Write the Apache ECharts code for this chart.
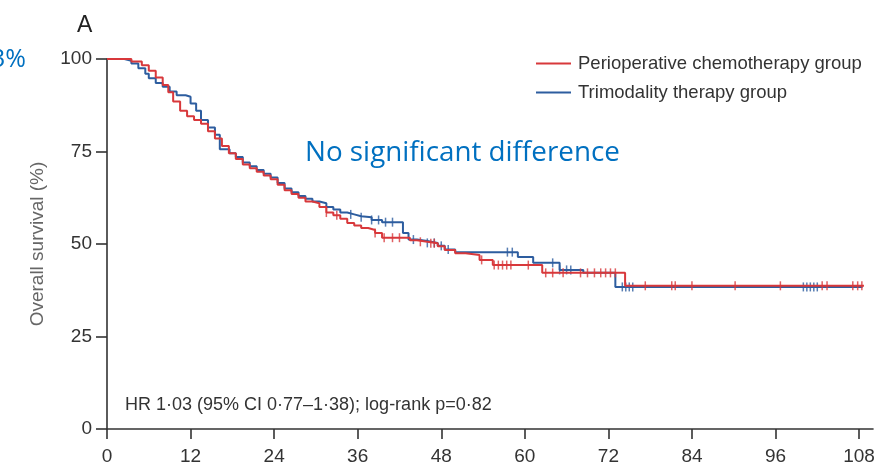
<!DOCTYPE html>
<html>
<head>
<meta charset="utf-8">
<script src="https://cdn.jsdelivr.net/npm/echarts@6/dist/echarts.min.js"></script>
<style>
html,body{margin:0;padding:0;background:#fff;}
#chart{width:879px;height:468px;}
</style>
</head>
<body>
<div id="chart"></div>
<script>
// ---- Data ----
var seriesNames = ['Perioperative chemotherapy group', 'Trimodality therapy group'];
var xTickLabels = [0, 12, 24, 36, 48, 60, 72, 84, 96, 108];
var yTickLabels = [0, 25, 50, 75, 100];

// Perioperative chemotherapy group: step times (months) and survival (%)
var periMonths = [0, 3.5, 5, 6, 7, 8, 8.8, 9.5, 10.5, 11.5, 12.5, 13.5, 14.5, 15.5, 16.5, 17.5, 18.5, 19.5, 20.5, 21.5,
  22.5, 23.5, 24.5, 25.5, 26.5, 27.5, 28.5, 29.5, 30.5, 31.5, 32.5, 33.5, 34.5, 35.5, 36.5, 37.5, 38.5, 39.5, 43.5, 44.5,
  46, 47.5, 48.5, 50, 51.5, 53.5, 55.4, 62.5, 74.4, 108.7];
var periSurv = [100, 99.3, 98.3, 96.8, 95, 93, 91, 88.5, 86, 84.5, 83.5, 82.5, 80.5, 78.5, 76.5, 74.5, 73, 71.5, 70.5, 69.5,
  68.5, 67.5, 66, 64.5, 63.5, 62.5, 61.5, 61, 60, 58.5, 57.8, 56.8, 55.7, 55, 54.3, 53.8, 53, 51.7, 51, 50.6,
  50.2, 49.4, 48.4, 47.5, 47, 45.7, 44.3, 42.2, 38.7, 38.7];
var periCensor = [31.5, 33, 38.5, 39.8, 41, 42, 45, 46.5, 47, 53.8, 55.6, 56.2, 56.8, 57.4, 58, 60.5, 63, 64, 65.5, 68, 69,
  70, 70.9, 71.6, 72.3, 73, 77.3, 81.1, 81.6, 84, 90.2, 96.7, 102.7, 103.4, 107.1, 107.8, 108.4];

// Trimodality therapy group
var triMonths = [0, 2.5, 3.5, 4.5, 5.5, 6, 7, 8, 9, 10, 11.3, 12, 12.8, 13.5, 14.5, 15.5, 16.2, 17.6, 18.5, 19.5,
  20.5, 21.5, 22.5, 23.5, 24.5, 25.5, 26.5, 27.5, 28.5, 29.5, 30.5, 31.5, 32.5, 33.5, 34.5, 35.5, 36.5, 38, 39.5, 42.5,
  43.3, 44.5, 46, 47.5, 48.5, 50, 59, 61.2, 65, 68.4, 73, 108.5];
var triSurv = [100, 99.5, 98.8, 97.5, 96, 94.8, 93.5, 92.5, 91.2, 90.2, 89.8, 88, 86, 83.5, 81.5, 79.5, 75.6, 74.5, 73.5, 72,
  71, 70, 69, 68, 66.5, 65, 64, 63, 62.2, 61.5, 61, 60, 59.3, 58.5, 58, 57.5, 57.2, 56.5, 55.9, 53,
  51.2, 50.8, 50.3, 49.5, 48.5, 47.8, 46.5, 44.9, 43, 42.2, 38.4, 38.4];
var triCensor = [35, 36.5, 38, 39, 40, 41, 44, 46, 47, 48, 49, 57.5, 58.2, 64, 65, 66, 66.6, 74, 74.5, 75, 75.5,
  100, 100.5, 101, 101.5, 102];

var annotationHR = 'HR 1·03 (95% CI 0·77–1·38); log-rank p=0·82';

// ---- Build ----
function zip(a, b) { return a.map(function (v, i) { return [v, b[i]]; }); }
function survAt(months, surv, t) {
  var s = surv[0];
  for (var i = 0; i < months.length; i++) { if (months[i] <= t) s = surv[i]; }
  return s;
}
function censorPts(times, months, surv) {
  return times.map(function (t) { return [t, survAt(months, surv, t)]; });
}

var RED = '#d8383b';
var BLUE = '#2d5d9f';
var TXT = '#333333';
var FONT = '"Liberation Sans", Arial, sans-serif';

var chart = echarts.init(document.getElementById('chart'), null, { renderer: 'canvas' });
chart.setOption({
  animation: false,
  backgroundColor: '#ffffff',
  textStyle: { fontFamily: FONT },
  grid: { left: 107, right: 6, top: 59, bottom: 39, containLabel: false },
  legend: {
    data: seriesNames,
    orient: 'vertical',
    left: 531,
    top: 49,
    icon: 'rect',
    itemWidth: 35,
    itemHeight: 2,
    itemGap: 10,
    textStyle: { fontFamily: FONT, fontSize: 18.5, color: TXT, lineHeight: 19, padding: [0, 0, 0, 2] }
  },
  xAxis: {
    type: 'value',
    min: 0,
    max: 110,
    interval: 12,
    splitLine: { show: false },
    axisLine: { show: true, onZero: false, lineStyle: { color: TXT, width: 1.6 } },
    axisTick: { show: true, length: 10, customValues: xTickLabels, lineStyle: { color: TXT, width: 1.6 } },
    axisLabel: { customValues: xTickLabels, fontSize: 19, color: TXT, margin: 18, fontFamily: FONT }
  },
  yAxis: {
    type: 'value',
    min: 0,
    max: 100,
    interval: 25,
    name: 'Overall survival (%)',
    nameLocation: 'middle',
    nameGap: 60,
    nameTextStyle: { fontSize: 19, color: '#666', fontFamily: FONT },
    splitLine: { show: false },
    axisLine: { show: true, lineStyle: { color: TXT, width: 1.6 } },
    axisTick: { show: true, length: 11, lineStyle: { color: TXT, width: 1.6 } },
    axisLabel: { fontSize: 19, color: TXT, margin: 15, fontFamily: FONT, customValues: yTickLabels }
  },
  series: [
    {
      name: seriesNames[1], type: 'line', step: 'end', showSymbol: false, z: 3,
      data: zip(triMonths, triSurv), color: BLUE,
      lineStyle: { color: BLUE, width: 2 }
    },
    {
      name: seriesNames[1] + ' censored', type: 'scatter', z: 3,
      data: censorPts(triCensor, triMonths, triSurv),
      symbol: 'rect', symbolSize: [1.5, 9], itemStyle: { color: BLUE }
    },
    {
      name: seriesNames[0], type: 'line', step: 'end', showSymbol: false, z: 4,
      data: zip(periMonths, periSurv), color: RED,
      lineStyle: { color: RED, width: 2 }
    },
    {
      name: seriesNames[0] + ' censored', type: 'scatter', z: 4,
      data: censorPts(periCensor, periMonths, periSurv),
      symbol: 'rect', symbolSize: [1.5, 9], itemStyle: { color: RED }
    }
  ],
  graphic: [
    { type: 'text', left: 77, top: 14, style: { text: 'A', fontSize: 23, fill: '#222', fontFamily: FONT } },
    { type: 'text', x: 26, y: 60, style: { text: '3%', fontSize: 25, fill: '#0070c0', fontFamily: '"Open Sans", sans-serif', align: 'right', verticalAlign: 'middle' } },
    { type: 'text', x: 305, y: 153, style: { text: 'No significant difference', fontSize: 27.8, fill: '#0070c0', fontFamily: '"Open Sans", sans-serif', verticalAlign: 'middle' } },
    { type: 'text', x: 125, y: 405, style: { text: annotationHR, fontSize: 18, fill: TXT, fontFamily: FONT, verticalAlign: 'middle' } }
  ]
});
</script>
</body>
</html>
